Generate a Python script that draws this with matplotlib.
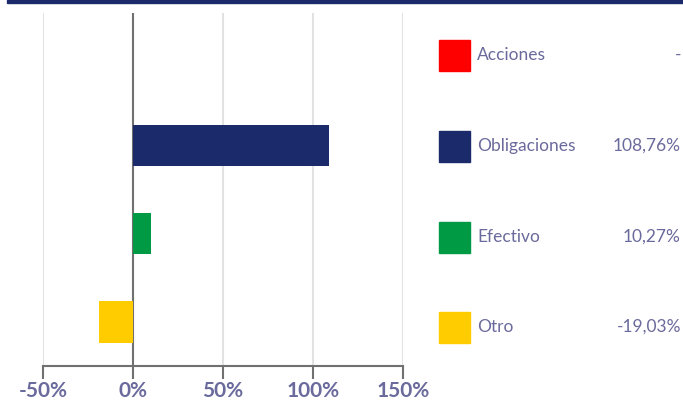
import matplotlib.pyplot as plt
from matplotlib.patches import Rectangle

categories = ["Acciones", "Obligaciones", "Efectivo", "Otro"]
values = [0.0, 108.76, 10.27, -19.03]
value_labels = ["-", "108,76%", "10,27%", "-19,03%"]
colors = ["#ff0000", "#1b2a6b", "#009a44", "#ffcc00"]
ticks = [-50, 0, 50, 100, 150]
tick_labels = ["-50%", "0%", "50%", "100%", "150%"]

text_color = "#6a6a9c"
W, H = 683, 405

fig = plt.figure(figsize=(W / 100, H / 100), dpi=100)
ax = fig.add_axes([43 / W, (H - 366) / H, 360 / W, 353 / H])

ypos = list(range(len(categories)))
for x in ticks:
    if x == 0:
        ax.axvline(x, color="#707070", lw=1.5, zorder=1)
    else:
        ax.axvline(x, color="#e2e2e2", lw=1.5, zorder=0)
ax.barh(ypos, values, height=0.47, color=colors, zorder=2)

ax.set_xlim(-50, 150)
ax.set_ylim(3.5, -0.5)
ax.set_yticks([])
ax.set_xticks(ticks)
ax.set_xticklabels(tick_labels)
for s in ["top", "right", "left"]:
    ax.spines[s].set_visible(False)
ax.spines["bottom"].set_color("#707070")
ax.spines["bottom"].set_linewidth(1.5)
ax.tick_params(axis="x", length=9, width=1.5, color="#707070", pad=2,
               labelsize=15, labelcolor=text_color)
for lab in ax.get_xticklabels():
    lab.set_fontweight("bold")
    lab.set_family("Lato")

# top band
fig.patches.append(Rectangle((7 / W, 1 - 3 / H), 1 - 7 / W, 3 / H,
                             transform=fig.transFigure, color="#1b2a6b"))

# legend panel
row_y = [55, 146, 237, 327]
for name, lab, c, y in zip(categories, value_labels, colors, row_y):
    fig.patches.append(Rectangle((439 / W, 1 - (y + 15.5) / H), 31 / W, 31 / H,
                                 transform=fig.transFigure, color=c))
    fig.text(477 / W, 1 - y / H, name, color=text_color, fontsize=12.5,
             family="Lato", va="center", ha="left")
    fig.text(681 / W, 1 - y / H, lab, color=text_color, fontsize=12.5,
             family="Lato", va="center", ha="right")

fig.savefig("out.png", dpi=100)
